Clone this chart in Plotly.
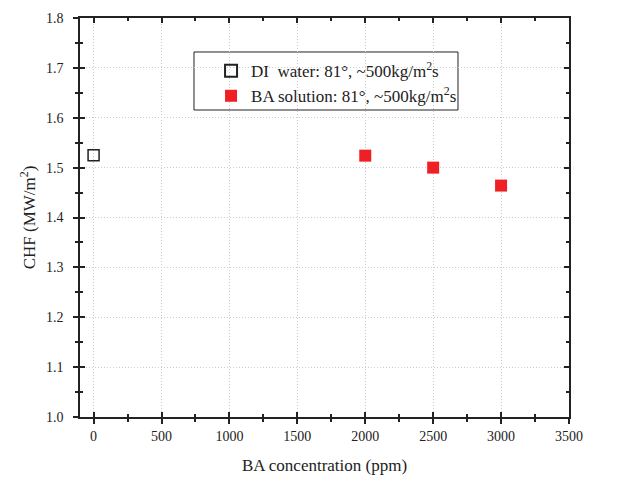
import plotly.graph_objects as go

di_x = [0]
di_y = [1.525]
ba_x = [2000, 2500, 3000]
ba_y = [1.524, 1.500, 1.464]

di_name = "DI  water: 81°, ~500kg/m<sup>2</sup>s"
ba_name = "BA solution: 81°, ~500kg/m<sup>2</sup>s"

FONT = "Liberation Serif"
fig = go.Figure()
fig.add_trace(go.Scatter(x=di_x, y=di_y, mode="markers", name=di_name,
                         marker=dict(symbol="square-open", size=11, color="#222222", line=dict(width=1.5))))
fig.add_trace(go.Scatter(x=ba_x, y=ba_y, mode="markers", name=ba_name,
                         marker=dict(symbol="square", size=12, color="#ee2026")))
# invisible trace for overlay axes
fig.add_trace(go.Scatter(x=[0], y=[1.5], xaxis="x2", yaxis="y2", mode="markers",
                         marker=dict(opacity=0), showlegend=False, hoverinfo="skip"))

xr = [-100, 3500]
yr = [1.0, 1.8]
common = dict(showline=True, linecolor="#222222", linewidth=1.5, zeroline=False, automargin=False)
grid = dict(showgrid=True, gridcolor="#cccccc", griddash="1px,2px", gridwidth=1)
fig.update_layout(
    width=642, height=481,
    margin=dict(l=72, r=81, t=10, b=72),
    paper_bgcolor="white", plot_bgcolor="white",
    font=dict(family=FONT, size=14, color="#222222"),
    showlegend=True,
    legend=dict(x=0.268, y=0.912, xanchor="left", yanchor="top",
                borderwidth=0, bgcolor="rgba(0,0,0,0)",
                font=dict(family=FONT, size=17), itemsizing="constant",
                tracegroupgap=2),
    shapes=[dict(type="rect", xref="paper", yref="paper", x0=0.2331, x1=0.773, y0=0.7694, y1=0.9148,
                 line=dict(color="#222222", width=1), fillcolor="white", layer="between")],
    xaxis=dict(range=xr, dtick=500, tick0=0, ticks="outside", ticklen=5, tickwidth=1.5,
               tickcolor="#222222", **grid,
               minor=dict(ticks="outside", dtick=250, ticklen=3, tickwidth=1.5, tickcolor="#222222", showgrid=False),
               title=dict(text="BA concentration (ppm)", font=dict(family=FONT, size=17), standoff=17),
               mirror=True, **common),
    yaxis=dict(range=yr, dtick=0.1, tick0=1.0, ticks="outside", ticklen=5, tickwidth=1.5,
               tickcolor="#222222", **grid, ticklabelstandoff=7,
               tickformat=".1f",
               minor=dict(ticks="outside", dtick=0.05, ticklen=3, tickwidth=1.5, tickcolor="#222222", showgrid=False),
               title=dict(text="CHF (MW/m<sup>2</sup>)", font=dict(family=FONT, size=17), standoff=6),
               mirror=True, **common),
    xaxis2=dict(range=xr, overlaying="x", anchor="y", side="bottom", dtick=500, tick0=0,
                ticks="inside", ticklen=5, tickwidth=1.5, tickcolor="#222222", showticklabels=False,
                showgrid=False, mirror="ticks",
                minor=dict(ticks="inside", dtick=250, ticklen=3, tickwidth=1.5, tickcolor="#222222"),
                **common),
    yaxis2=dict(range=yr, overlaying="y", anchor="x", side="left", dtick=0.1, tick0=1.0,
                ticks="inside", ticklen=5, tickwidth=1.5, tickcolor="#222222", showticklabels=False,
                showgrid=False, mirror="ticks",
                minor=dict(ticks="inside", dtick=0.05, ticklen=3, tickwidth=1.5, tickcolor="#222222"),
                **common),
)
fig.write_html("out.html")
